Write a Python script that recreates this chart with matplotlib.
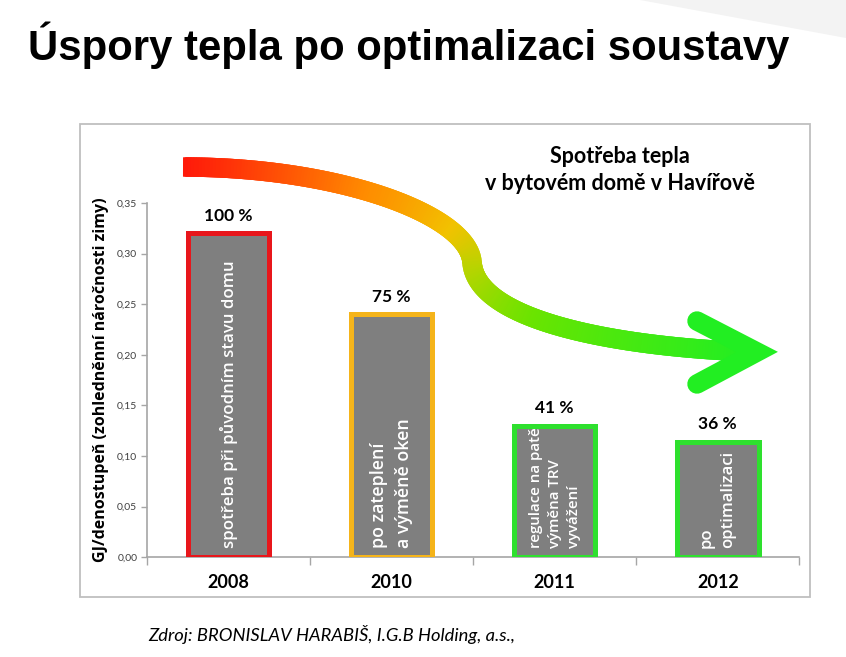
import matplotlib
matplotlib.use('Agg')
import matplotlib.pyplot as plt
import numpy as np
from matplotlib.collections import LineCollection
from matplotlib.patches import Rectangle, Polygon
from matplotlib.colors import LinearSegmentedColormap

# ---- data ----
years = ['2008', '2010', '2011', '2012']
values = [0.32, 0.24, 0.13, 0.114]
percent_labels = ['100 %', '75 %', '41 %', '36 %']
bar_texts = ['spotřeba při původním stavu domu',
             'po zateplení\na výměně oken',
             'regulace na patě\nvýměna TRV\nvyvážení',
             'po\noptimalizaci']
bar_text_sizes = [12.2, 12.8, 10.8, 12]
edge_colors = ['#e8161b', '#f5b41a', '#2ee02e', '#2ee02e']
yticks = [0.00, 0.05, 0.10, 0.15, 0.20, 0.25, 0.30, 0.35]
ytick_labels = ['0,00', '0,05', '0,10', '0,15', '0,20', '0,25', '0,30', '0,35']

W, H = 846, 657
fig = plt.figure(figsize=(W / 100, H / 100), dpi=100)
fig.patch.set_facecolor('white')

# decorative overlay axes in pixel coords
deco = fig.add_axes([0, 0, 1, 1], zorder=0)
deco.set_xlim(0, W)
deco.set_ylim(H, 0)
deco.axis('off')
deco.add_patch(Polygon([[640, 0], [846, 0], [846, 38]], closed=True,
                       facecolor='#f3f3f3', edgecolor='none'))
deco.add_patch(Rectangle((80, 124), 810 - 80, 597 - 124, fill=False,
                         edgecolor='#bfbfbf', lw=1.3))

# title (fit to the reference width)
title = fig.text(28 / W, 1 - 45 / H, 'Úspory tepla po optimalizaci soustavy',
                 family='Liberation Sans', weight='bold',
                 fontsize=34, ha='left', va='center', color='black')
r = fig.canvas.get_renderer()
tw = title.get_window_extent(renderer=r).width
title.set_fontsize(34 * 762 / tw)

# footer
fig.text(148 / W, 1 - 635 / H, 'Zdroj: BRONISLAV HARABIŠ, I.G.B Holding, a.s.,',
         family='Lato', style='italic', fontsize=13.2, ha='left', va='center',
         color='black')

# ---- main chart ----
ax = fig.add_axes([147 / W, (H - 557.3) / H, (799.3 - 147) / W, 354.3 / H], zorder=2)
ax.patch.set_alpha(0)
x = np.arange(len(years))
ax.bar(x, values, width=0.5, color='#7f7f7f', edgecolor=edge_colors,
       linewidth=3.6, zorder=3)
ax.set_xlim(-0.5, len(years) - 0.5)
ax.set_ylim(0, 0.35)
ax.set_yticks(yticks)
ax.set_yticklabels(ytick_labels, family='Lato', fontsize=7.5, color='#404040')
ax.set_xticks(x)
ax.set_xticklabels(years, family='Lato', weight='bold', fontsize=13)
ax.set_xticks(np.arange(len(years) + 1) - 0.5, minor=True)
ax.tick_params(axis='x', which='major', length=0, pad=12)
ax.tick_params(axis='x', which='minor', length=6, color='#a6a6a6', width=1)
ax.tick_params(axis='y', length=4, color='#a6a6a6', width=1, pad=3)
for s in ['top', 'right']:
    ax.spines[s].set_visible(False)
for s in ['left', 'bottom']:
    ax.spines[s].set_color('#a6a6a6')
    ax.spines[s].set_linewidth(1.2)
ax.set_ylabel('GJ/denostupeň (zohledněnní náročnosti zimy)', family='Open Sans',
              weight='bold', fontsize=11.5, labelpad=6)

for xi, v, p in zip(x, values, percent_labels):
    ax.annotate(p, (xi, v), xytext=(0, 7), textcoords='offset points',
                ha='center', va='bottom', family='Lato', weight='bold',
                fontsize=12.5)

for xi, t, fs in zip(x, bar_texts, bar_text_sizes):
    ax.annotate(t, (xi, 0), xytext=(0, 7), textcoords='offset points',
                rotation=90, ha='center', va='bottom', multialignment='left',
                family='Open Sans', weight='semibold', fontsize=fs,
                color='white', zorder=4, linespacing=1.45)

# chart subtitle
fig.text(620 / W, 1 - 170 / H, 'Spotřeba tepla\nv bytovém domě v Havířově',
         family='Lato', weight='bold', fontsize=15.5, ha='center', va='center',
         linespacing=1.3)

# ---- gradient curved arrow (decoration) ----
def bez(p0, p1, p2, p3, n=300):
    t = np.linspace(0, 1, n)[:, None]
    return ((1 - t) ** 3 * np.array(p0) + 3 * (1 - t) ** 2 * t * np.array(p1)
            + 3 * (1 - t) * t ** 2 * np.array(p2) + t ** 3 * np.array(p3))

seg1 = bez((183, 167), (340, 167), (468, 215), (472, 262))
seg2 = bez((472, 262), (476, 322), (620, 347), (752, 352))
path = np.vstack([seg1, seg2[1:]])
# overlapping segments (i -> i+3) with butt caps to avoid seams
segs = np.stack([path[:-3], path[3:]], axis=1)
cmap = LinearSegmentedColormap.from_list(
    'arr', [(0, '#ff1a0a'), (0.22, '#ff8c00'), (0.38, '#f2c200'),
            (0.52, '#b8d400'), (0.7, '#6ae400'), (1, '#22ee22')])
lc = LineCollection(segs, cmap=cmap, linewidths=14, capstyle='butt',
                    joinstyle='round')
lc.set_array(np.linspace(0, 1, len(segs)))
deco.add_collection(lc)
deco.plot([697, 757, 697], [321, 352, 384], color='#22ee22', lw=14,
          solid_capstyle='round', solid_joinstyle='miter')

fig.savefig('out.png', dpi=100)
